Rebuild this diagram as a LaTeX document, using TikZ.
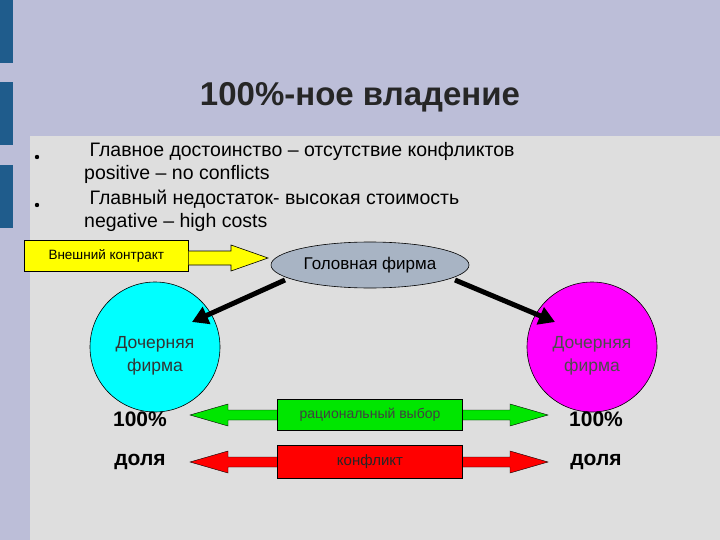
\documentclass[tikz,border=0pt]{standalone}
\usepackage{fontspec}
\setmainfont{Liberation Sans}
\usetikzlibrary{shapes.geometric,arrows.meta}
\definecolor{lav}{HTML}{BCBED8}
\definecolor{panel}{HTML}{DEDEDE}
\definecolor{dblue}{HTML}{1F5C8C}
\definecolor{ellc}{HTML}{A8B4C4}
\definecolor{cyn}{RGB}{0,255,255}
\definecolor{mag}{RGB}{255,0,255}
\definecolor{grn}{RGB}{0,230,0}
\definecolor{rd}{RGB}{255,0,0}
\definecolor{ylw}{RGB}{255,255,0}
\begin{document}
\begin{tikzpicture}[x=1pt,y=-1pt,
 fat/.style={draw=black,line width=0.6pt},
 lbl/.style={font=\fontsize{21}{24}\selectfont\bfseries}]
\fill[lav] (0,0) rectangle (720,540);
\fill[panel] (30,136) rectangle (720,540);
\foreach \a/\b in {0/63,82/145,165/228} \fill[dblue] (0,\a) rectangle (13,\b);
\node[font=\fontsize{33}{36}\selectfont\bfseries,text=black!85] (title) at (360,97) {100\%-ное владение};
\begin{scope}[every node/.style={anchor=west,font=\fontsize{19.5}{22}\selectfont,inner sep=0pt}]
\node (l1) at (84,151) {\ Главное достоинство – отсутствие конфликтов};
\node (l2) at (84,174) {positive – no conflicts};
\node (l3) at (84,199) {\ Главный недостаток- высокая стоимость};
\node (l4) at (84,222) {negative – high costs};
\end{scope}
\fill (37,157) circle (2.2);
\fill (37,205) circle (2.2);
\node[fat,fill=ylw,minimum width=164,minimum height=31,anchor=north west,inner sep=0pt,font=\fontsize{13.5}{15}\selectfont] (ext) at (24,240) {Внешний контракт};
\node[ellipse,fat,fill=ellc,minimum width=198,minimum height=46,font=\fontsize{17}{19}\selectfont] (head) at (370,265) {Головная фирма};
\draw[fat,fill=ylw] (ext.east|-0,251) -- (231,251) -- (231,245) -- (268,258) -- (231,271) -- (231,265) -- (ext.east|-0,265);
\node[circle,fat,fill=cyn,minimum size=130] (c1) at (155,347) {};
\node[circle,fat,fill=mag,minimum size=130] (c2) at (592,347) {};
\node[font=\fontsize{17.5}{23}\selectfont,align=center,text=black!80] (t1) at (155,356) {Дочерняя\\фирма};
\node[font=\fontsize{17.5}{23}\selectfont,align=center,text=black!70] (t2) at (592,356) {Дочерняя\\фирма};
\draw[line width=5pt,-{Triangle[length=16pt,width=18pt]}] (285,280) -- (192,322);
\draw[line width=5pt,-{Triangle[length=16pt,width=18pt]}] (455,280) -- (555,322);
\filldraw[fill=grn,draw=black,line width=0.4pt] (190,415) -- (228,404) -- (228,410) -- (510,410) -- (510,404) -- (548,415) -- (510,426) -- (510,420) -- (228,420) -- (228,426) -- cycle;
\node[fat,fill=grn,minimum width=185,minimum height=31,inner sep=0pt,font=\fontsize{14}{16}\selectfont,text=black!75] (rat) at (370,415) {рациональный выбор};
\filldraw[fill=rd,draw=black,line width=0.4pt] (190,462) -- (228,451) -- (228,457) -- (510,457) -- (510,451) -- (548,462) -- (510,473) -- (510,467) -- (228,467) -- (228,473) -- cycle;
\node[fat,fill=rd,minimum width=185,minimum height=33,inner sep=0pt,font=\fontsize{15}{17}\selectfont,text=black!85] (kon) at (370,462) {конфликт};
\node[lbl] (p1) at (140,419) {100\%};
\node[lbl] (p2) at (596,419) {100\%};
\node[lbl] (d1) at (140,462) {доля};
\node[lbl] (d2) at (596,462) {доля};
\end{tikzpicture}
\end{document}
